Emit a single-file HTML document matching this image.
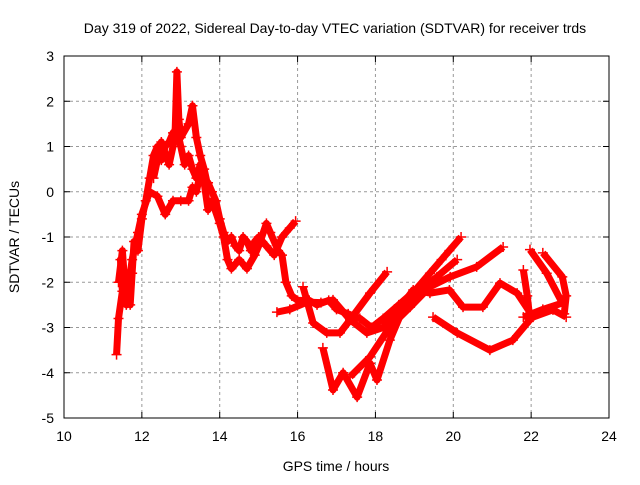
<!DOCTYPE html>
<html><head><meta charset="utf-8"><style>
body{margin:0;background:#fff}
svg text{font-family:"Liberation Sans",Arial,sans-serif;font-size:14px;fill:#000}
</style></head><body>
<svg id="c" width="640" height="480">
<text x="335" y="33" text-anchor="middle">Day 319 of 2022, Sidereal Day-to-day VTEC variation (SDTVAR) for receiver trds</text>
<text x="336" y="471" text-anchor="middle">GPS time / hours</text>
<text transform="translate(19,237) rotate(-90)" text-anchor="middle">SDTVAR / TECUs</text>
<g id="grid"></g><g id="marks"></g>
<rect x="64" y="56" width="545" height="362" fill="none" stroke="#000"/>
</svg>
<script>
const xTicks=[10,12,14,16,18,20,22,24];
const yTicks=[3,2,1,0,-1,-2,-3,-4,-5];
const trackA=[[11.35,-3.6],[11.4,-2.8],[11.5,-2.2],[11.45,-1.5],[11.6,-1.9],[11.7,-2.5],[11.75,-1.8],[11.8,-1.1],[11.9,-1.3],[12.0,-0.6],[12.1,-0.2],[12.2,0.3],[12.3,0.8],[12.4,1.0],[12.5,0.7],[12.6,1.0],[12.7,1.1],[12.8,1.3],[12.9,1.4],[13.0,1.0],[13.1,0.6],[13.2,0.8],[13.3,0.5],[13.4,0.3],[13.5,0.6],[13.6,0.2],[13.7,0.2],[13.8,0.0],[13.9,-0.2],[14.0,-0.6],[14.1,-0.9],[14.2,-1.1],[14.3,-1.0],[14.4,-1.2],[14.5,-1.3],[14.6,-1.0],[14.7,-1.1],[14.8,-1.3],[14.9,-1.1],[15.0,-1.0],[15.2,-1.2],[15.4,-1.4],[15.6,-1.0],[15.8,-0.8],[15.95,-0.65]];
const trackB=[[11.4,-2.0],[11.5,-1.3],[11.6,-2.5],[11.75,-1.5],[11.9,-0.9],[12.0,-0.5],[12.2,0.0],[12.4,-0.1],[12.6,-0.5],[12.8,-0.2],[13.0,-0.2],[13.2,-0.2],[13.3,0.1],[13.4,0.0],[13.5,0.4],[13.6,0.2],[13.7,-0.4],[13.8,-0.2],[14.0,-0.7],[14.1,-1.0],[14.2,-1.5],[14.3,-1.7],[14.5,-1.5],[14.7,-1.7],[14.9,-1.4],[15.0,-1.2],[15.2,-0.7],[15.3,-0.9],[15.5,-1.3],[15.6,-1.4],[15.7,-2.0],[15.85,-2.3],[16.0,-2.4],[16.3,-2.4],[16.5,-2.5],[16.8,-2.4],[17.0,-2.6],[17.3,-2.7],[17.6,-2.8],[17.9,-3.0],[18.2,-2.8],[18.6,-2.5],[19.0,-2.2],[19.4,-1.8],[19.7,-1.5],[19.9,-1.3],[20.2,-1.0]];
const trackPeak=[[12.3,0.3],[12.5,1.1],[12.7,0.6],[12.85,1.2],[12.9,2.65],[12.95,1.6],[13.0,1.2],[13.2,1.5],[13.3,1.9],[13.4,1.2],[13.5,0.8],[13.6,0.5],[13.7,0.1]];
const trackC=[[15.47,-2.66],[15.8,-2.6],[16.24,-2.44],[16.6,-2.45],[16.91,-2.39],[17.35,-2.83],[17.78,-3.12],[18.2,-3.0],[18.6,-2.6],[18.97,-2.17],[19.4,-2.24],[19.9,-2.17],[20.25,-2.55],[20.76,-2.55],[21.2,-2.02],[21.64,-2.24],[22.05,-2.77],[22.56,-2.61],[22.9,-2.77]];
const trackD=[[16.14,-2.1],[16.4,-2.9],[16.75,-3.12],[17.09,-3.12],[17.35,-2.83],[17.86,-2.24],[18.3,-1.77]];
const trackE=[[16.65,-3.45],[16.91,-4.38],[17.17,-4.0],[17.53,-4.54],[17.86,-3.79],[18.04,-4.16],[18.37,-3.28],[18.7,-2.61],[19.07,-2.24],[19.58,-1.88],[20.1,-1.5]];
const trackF=[[17.35,-4.09],[17.86,-3.65],[18.37,-2.99],[18.89,-2.55],[19.4,-2.1],[19.92,-1.88],[20.6,-1.66],[21.28,-1.22]];
const trackG=[[19.48,-2.77],[20.1,-3.12],[20.94,-3.5],[21.53,-3.28],[21.97,-2.83],[21.9,-2.3],[21.8,-1.73]];
const trackH=[[21.97,-1.28],[22.4,-1.8],[22.8,-2.46],[22.3,-2.6],[21.8,-2.77]];
const trackI=[[22.3,-1.35],[22.8,-1.88],[22.9,-2.3],[22.85,-2.7]];
const tracks=[trackA,trackB,trackPeak,trackC,trackD,trackE,trackF,trackG,trackH,trackI];
const NS="http://www.w3.org/2000/svg";
const X=v=>64+(v-10)*545/14, Y=v=>56+(3-v)*362/8;
const grid=document.getElementById('grid'), marks=document.getElementById('marks'), svg=document.getElementById('c');
function mk(tag,attrs,parent){const e=document.createElementNS(NS,tag);for(const k in attrs)e.setAttribute(k,attrs[k]);parent.appendChild(e);return e;}
xTicks.forEach(t=>{const x=X(t);
 if(t>10&&t<24){const l=mk('line',{x1:x,x2:x,y1:56,y2:418,stroke:'#999','stroke-dasharray':'3,3'},grid);
 
 }
 mk('line',{x1:x,x2:x,y1:418,y2:412,stroke:'#000'},grid);mk('line',{x1:x,x2:x,y1:56,y2:62,stroke:'#000'},grid);
 const tx=mk('text',{x:x,y:441,'text-anchor':'middle'},svg);tx.textContent=t;
 
 });
yTicks.forEach(t=>{const y=Y(t);
 if(t<3&&t>-5){const l=mk('line',{x1:64,x2:609,y1:y,y2:y,stroke:'#999','stroke-dasharray':'3,3'},grid);
 
 }
 mk('line',{x1:64,x2:70,y1:y,y2:y,stroke:'#000'},grid);mk('line',{x1:609,x2:603,y1:y,y2:y,stroke:'#000'},grid);
 const tx=mk('text',{x:54,y:y+5,'text-anchor':'end'},svg);tx.textContent=t;
 
 });
tracks.forEach(tr=>{
 const pl=mk('polyline',{points:tr.map(p=>X(p[0])+','+Y(p[1])).join(' '),fill:'none',stroke:'#f00','stroke-width':7,'stroke-linejoin':'round'},marks);
 
 
 tr.forEach(p=>{const x=X(p[0]),y=Y(p[1]);
  const m=mk('path',{d:`M${x-5},${y}H${x+5}M${x},${y-5}V${y+5}`,stroke:'#f00','stroke-width':1.5},marks);
  
  });
});
</script>
</body></html>
